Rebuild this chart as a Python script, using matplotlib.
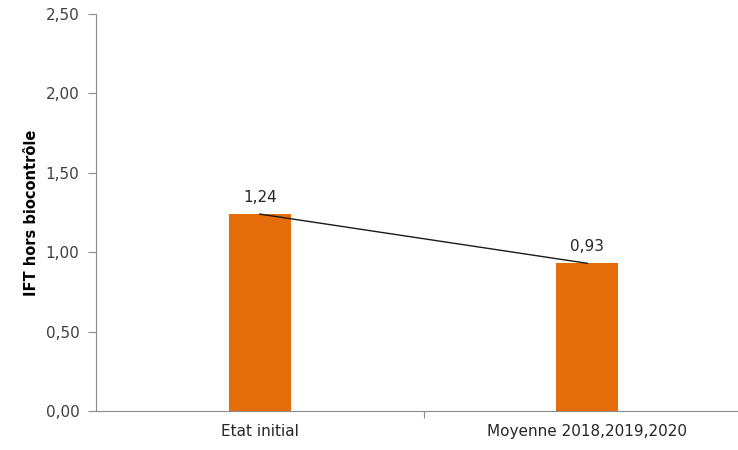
import matplotlib.pyplot as plt
from matplotlib.ticker import FuncFormatter

categories = ["Etat initial", "Moyenne 2018,2019,2020"]
ift = [1.24, 0.93]

fig = plt.figure(figsize=(7.38, 4.5), dpi=100)
ax = fig.add_axes([96 / 738, 39 / 450, 642 / 738, 397 / 450])

x = list(range(len(categories)))
ax.bar(x, ift, width=0.19, color="#E46C0A", zorder=2)
ax.plot(x, ift, color="#1a1a1a", lw=1, zorder=3)
for xi, v in zip(x, ift):
    ax.text(xi, v + 0.06, f"{v:.2f}".replace(".", ","), ha="center", va="bottom",
            fontsize=11, color="#262626")

ax.set_xlim(-0.5, 1.46)
ax.set_ylim(0, 2.5)
ax.set_yticks([0, 0.5, 1.0, 1.5, 2.0, 2.5])
ax.yaxis.set_major_formatter(FuncFormatter(lambda v, p: f"{v:.2f}".replace(".", ",")))
ax.tick_params(axis="y", direction="out", length=6, color="#8c8c8c", labelsize=11,
               labelcolor="#404040", pad=6)

# category labels sit under the bars, tick mark only between the groups
ax.set_xticks([0.5])
ax.set_xticklabels([""])
ax.tick_params(axis="x", direction="out", length=5, color="#8c8c8c")
for xi, c in zip(x, categories):
    ax.text(xi, -0.13, c, ha="center", va="center", fontsize=11, color="#262626")

for s in ["top", "right"]:
    ax.spines[s].set_visible(False)
for s in ["left", "bottom"]:
    ax.spines[s].set_color("#8c8c8c")

ax.set_ylabel("IFT hors biocontrôle", fontsize=10.5, fontweight="bold", labelpad=5)

fig.savefig("out.png", dpi=100)
